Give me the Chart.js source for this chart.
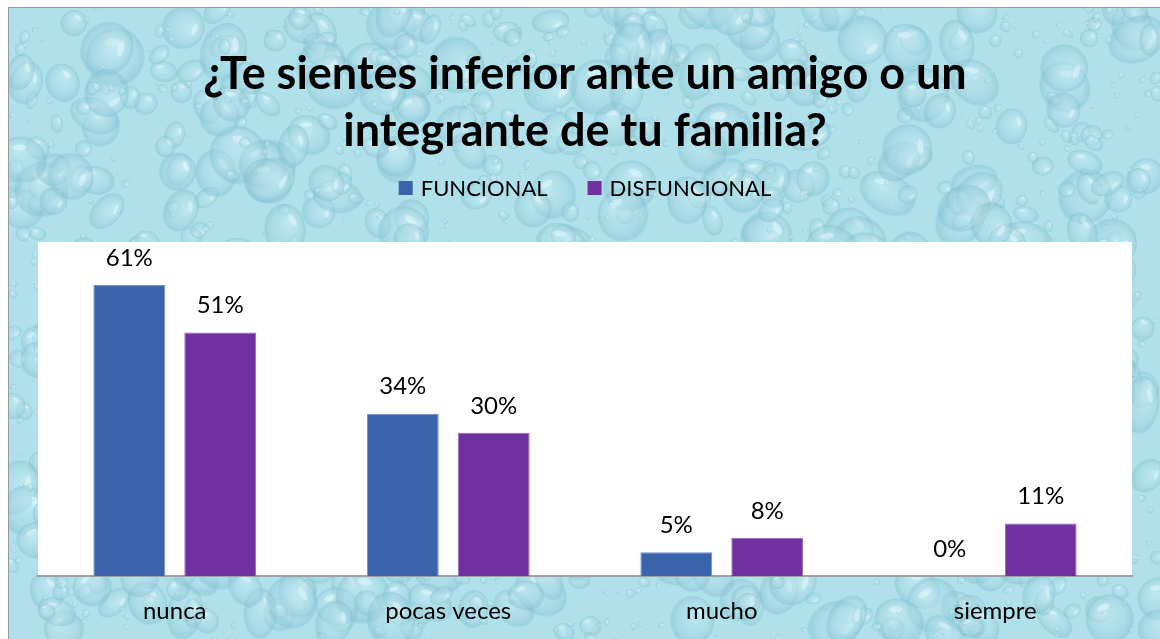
<!DOCTYPE html>
<html>
<head>
<meta charset="utf-8">
<script src="https://cdn.jsdelivr.net/npm/chart.js@4.4.1/dist/chart.umd.min.js"></script>
<style>
  html, body { margin:0; padding:0; background:#ffffff; width:1160px; height:639px; overflow:hidden; }
  #bg { position:absolute; left:8px; top:7px; }
  #frame { position:absolute; left:8px; top:7px; width:1152px; height:632px;
    border-left:1px solid #9a9a9a; border-top:1px solid #9a9a9a; box-sizing:border-box; }
  #wrap { position:absolute; left:0; top:0; width:1160px; height:639px; }
</style>
</head>
<body>
<canvas id="bg" width="1152" height="632"></canvas>
<div id="frame"></div>
<div id="wrap"><canvas id="c" width="1160" height="639"></canvas></div>
<script>
const categories = ["nunca", "pocas veces", "mucho", "siempre"];
const funcional = [61, 34, 5, 0];
const disfuncional = [51, 30, 8, 11];
const seriesNames = ["FUNCIONAL", "DISFUNCIONAL"];
const seriesColors = ["#3a63ab", "#7030a0"];
const titleLines = ["¿Te sientes inferior ante un amigo o un", "integrante de tu familia?"];

const FONT = "Lato, 'Open Sans', 'DejaVu Sans', sans-serif";

// decorative water-drop texture (deterministic)
(function drawTexture(){
  const cv = document.getElementById('bg');
  const g = cv.getContext('2d');
  const W = cv.width, H = cv.height;
  g.fillStyle = '#b0e1eb';
  g.fillRect(0, 0, W, H);
  let s = 12345;
  const rnd = () => { s = (s * 1103515245 + 12345) & 0x7fffffff; return s / 0x7fffffff; };
  const drop = (x, y, rx, ry, rot) => {
    g.save();
    g.translate(x, y); g.rotate(rot); g.scale(1, ry / rx);
    const gr = g.createRadialGradient(-rx*0.3, -rx*0.3, rx*0.1, 0, 0, rx);
    gr.addColorStop(0, 'rgba(200,236,243,0.55)');
    gr.addColorStop(0.65, 'rgba(165,214,226,0.45)');
    gr.addColorStop(0.92, 'rgba(128,190,206,0.45)');
    gr.addColorStop(1, 'rgba(150,205,218,0)');
    g.fillStyle = gr;
    g.beginPath(); g.arc(0, 0, rx, 0, Math.PI*2); g.fill();
    g.fillStyle = 'rgba(235,250,252,0.45)';
    g.beginPath(); g.ellipse(-rx*0.35, -rx*0.4, rx*0.28, rx*0.12, -0.6, 0, Math.PI*2); g.fill();
    g.restore();
  };
  for (let i = 0; i < 1600; i++) {
    const r = 3 + Math.pow(rnd(), 3) * 28;
    drop(rnd()*W, rnd()*H, r, r*(0.6 + rnd()*0.5), rnd()*Math.PI);
  }
})();

const plotBg = {
  id: 'plotBg',
  beforeDraw(chart) {
    const {ctx, chartArea:a} = chart;
    ctx.save();
    ctx.fillStyle = '#ffffff';
    ctx.fillRect(a.left, a.top, a.right - a.left, a.bottom - a.top);
    ctx.restore();
  }
};

const valueLabels = {
  id: 'valueLabels',
  afterDatasetsDraw(chart) {
    const ctx = chart.ctx;
    ctx.save();
    ctx.font = "24px " + FONT;
    ctx.fillStyle = '#000000';
    ctx.textAlign = 'center';
    ctx.textBaseline = 'middle';
    chart.data.datasets.forEach((ds, i) => {
      chart.getDatasetMeta(i).data.forEach((bar, j) => {
        ctx.fillText(ds.data[j] + '%', bar.x, bar.y - 27);
      });
    });
    ctx.restore();
  }
};

const customLegend = {
  id: 'customLegend',
  afterDraw(chart) {
    const ctx = chart.ctx;
    const a = chart.chartArea;
    ctx.save();
    ctx.font = "22px " + FONT;
    ctx.textBaseline = 'middle';
    const box = 14, gapText = 8, gapItem = 40, y = 188;
    const items = chart.data.datasets.map(d => ({ t: d.label, c: d.backgroundColor, w: box + gapText + ctx.measureText(d.label).width }));
    const total = items.reduce((s, it) => s + it.w, 0) + gapItem * (items.length - 1);
    let x = (a.left + a.right) / 2 - total / 2;
    items.forEach(it => {
      ctx.fillStyle = it.c;
      ctx.fillRect(x, y - box / 2, box, box);
      ctx.fillStyle = '#000000';
      ctx.textAlign = 'left';
      ctx.fillText(it.t, x + box + gapText, y + 1);
      x += it.w + gapItem;
    });
    ctx.restore();
  }
};

new Chart(document.getElementById('c'), {
  type: 'bar',
  data: {
    labels: categories,
    datasets: [
      { label: seriesNames[0], data: funcional, backgroundColor: seriesColors[0], borderColor: '#6f8fcc', borderWidth: { top: 1, left: 1, right: 1, bottom: 0 } },
      { label: seriesNames[1], data: disfuncional, backgroundColor: seriesColors[1], borderColor: '#9a64c2', borderWidth: { top: 1, left: 1, right: 1, bottom: 0 } }
    ]
  },
  options: {
    responsive: false,
    animation: false,
    devicePixelRatio: 1,
    layout: { padding: { left: 38, right: 28, top: 46, bottom: 13 } },
    datasets: { bar: { categoryPercentage: 0.665, barPercentage: 0.79 } },
    plugins: {
      title: {
        display: true,
        text: titleLines,
        color: '#000000',
        font: { family: FONT, size: 45, weight: 'bold', lineHeight: 1.266 },
        padding: { top: 0, bottom: 82 }
      },
      legend: { display: false },
      tooltip: { enabled: false }
    },
    scales: {
      x: {
        grid: { display: false, drawTicks: false },
        border: { display: true, color: '#a0a0a0', width: 2 },
        ticks: { color: '#000000', font: { family: FONT, size: 24 }, padding: 21 },
        afterFit(scale) { scale.height = 50; }
      },
      y: {
        display: false,
        min: 0, max: 70
      }
    }
  },
  plugins: [plotBg, valueLabels, customLegend]
});
</script>
</body>
</html>
